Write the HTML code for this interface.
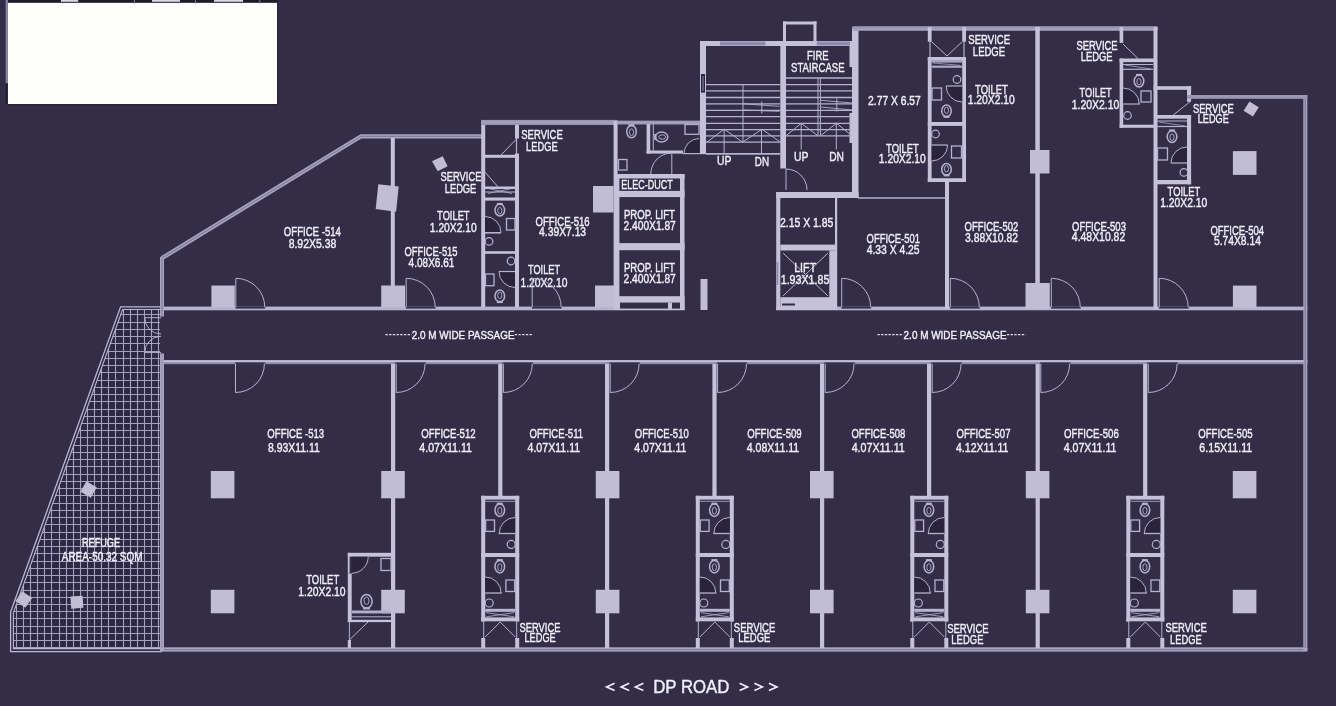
<!DOCTYPE html>
<html><head><meta charset="utf-8"><style>
html,body{margin:0;padding:0;background:#332d48;width:1336px;height:706px;overflow:hidden}
svg{display:block;will-change:transform}
text{font-family:"Liberation Sans",sans-serif}
</style></head><body>
<svg width="1336" height="706" viewBox="0 0 1336 706">
<rect x="0" y="0" width="1336" height="706" fill="#332d48"/>
<rect x="7.8" y="2.6" width="269.3" height="101.4" fill="#fefefc" />
<rect x="7.8" y="0" width="269.3" height="2.6" fill="#201c30" />
<rect x="5.7" y="0" width="2.1" height="83.4" fill="#8d88a5" />
<rect x="5.7" y="83.4" width="2.1" height="20.6" fill="#221e33" />
<rect x="7.8" y="104" width="270.2" height="1.6" fill="#29243b" />
<rect x="277.1" y="0" width="1.5" height="104" fill="#29243b" />
<rect x="61" y="0" width="17.2" height="1.8" fill="#d9d7e2" />
<rect x="152" y="0" width="28" height="1.8" fill="#d9d7e2" />
<rect x="214" y="0" width="29" height="1.8" fill="#d9d7e2" />
<line x1="134.4" y1="0" x2="134.4" y2="4" stroke="#9d9aab" stroke-width="0.8"/>
<line x1="195.6" y1="0" x2="195.6" y2="4" stroke="#9d9aab" stroke-width="0.8"/>
<line x1="259.8" y1="0" x2="259.8" y2="4" stroke="#9d9aab" stroke-width="0.8"/>
<defs><clipPath id="rf"><polygon points="122.5,309.8 160,309.8 160,648.3 13.8,648.3 13.8,612.5"/></clipPath></defs>
<rect x="0" y="300" width="170" height="360" fill="#2d2843" clip-path="url(#rf)"/>
<g clip-path="url(#rf)" stroke="#a5a1bf" stroke-width="1.1">
<line x1="16.5" y1="300" x2="16.5" y2="660"/>
<line x1="23.5" y1="300" x2="23.5" y2="660"/>
<line x1="30.5" y1="300" x2="30.5" y2="660"/>
<line x1="37.5" y1="300" x2="37.5" y2="660"/>
<line x1="44.5" y1="300" x2="44.5" y2="660"/>
<line x1="51.5" y1="300" x2="51.5" y2="660"/>
<line x1="59.5" y1="300" x2="59.5" y2="660"/>
<line x1="66.5" y1="300" x2="66.5" y2="660"/>
<line x1="73.5" y1="300" x2="73.5" y2="660"/>
<line x1="80.5" y1="300" x2="80.5" y2="660"/>
<line x1="87.5" y1="300" x2="87.5" y2="660"/>
<line x1="94.5" y1="300" x2="94.5" y2="660"/>
<line x1="101.5" y1="300" x2="101.5" y2="660"/>
<line x1="108.5" y1="300" x2="108.5" y2="660"/>
<line x1="115.5" y1="300" x2="115.5" y2="660"/>
<line x1="123.5" y1="300" x2="123.5" y2="660"/>
<line x1="130.5" y1="300" x2="130.5" y2="660"/>
<line x1="137.5" y1="300" x2="137.5" y2="660"/>
<line x1="144.5" y1="300" x2="144.5" y2="660"/>
<line x1="151.5" y1="300" x2="151.5" y2="660"/>
<line x1="158.5" y1="300" x2="158.5" y2="660"/>
<line x1="0" y1="300.5" x2="170" y2="300.5"/>
<line x1="0" y1="307.5" x2="170" y2="307.5"/>
<line x1="0" y1="314.5" x2="170" y2="314.5"/>
<line x1="0" y1="322.5" x2="170" y2="322.5"/>
<line x1="0" y1="329.5" x2="170" y2="329.5"/>
<line x1="0" y1="336.5" x2="170" y2="336.5"/>
<line x1="0" y1="343.5" x2="170" y2="343.5"/>
<line x1="0" y1="351.5" x2="170" y2="351.5"/>
<line x1="0" y1="358.5" x2="170" y2="358.5"/>
<line x1="0" y1="365.5" x2="170" y2="365.5"/>
<line x1="0" y1="372.5" x2="170" y2="372.5"/>
<line x1="0" y1="380.5" x2="170" y2="380.5"/>
<line x1="0" y1="387.5" x2="170" y2="387.5"/>
<line x1="0" y1="394.5" x2="170" y2="394.5"/>
<line x1="0" y1="401.5" x2="170" y2="401.5"/>
<line x1="0" y1="409.5" x2="170" y2="409.5"/>
<line x1="0" y1="416.5" x2="170" y2="416.5"/>
<line x1="0" y1="423.5" x2="170" y2="423.5"/>
<line x1="0" y1="430.5" x2="170" y2="430.5"/>
<line x1="0" y1="437.5" x2="170" y2="437.5"/>
<line x1="0" y1="445.5" x2="170" y2="445.5"/>
<line x1="0" y1="452.5" x2="170" y2="452.5"/>
<line x1="0" y1="459.5" x2="170" y2="459.5"/>
<line x1="0" y1="466.5" x2="170" y2="466.5"/>
<line x1="0" y1="474.5" x2="170" y2="474.5"/>
<line x1="0" y1="481.5" x2="170" y2="481.5"/>
<line x1="0" y1="488.5" x2="170" y2="488.5"/>
<line x1="0" y1="495.5" x2="170" y2="495.5"/>
<line x1="0" y1="503.5" x2="170" y2="503.5"/>
<line x1="0" y1="510.5" x2="170" y2="510.5"/>
<line x1="0" y1="517.5" x2="170" y2="517.5"/>
<line x1="0" y1="524.5" x2="170" y2="524.5"/>
<line x1="0" y1="532.5" x2="170" y2="532.5"/>
<line x1="0" y1="539.5" x2="170" y2="539.5"/>
<line x1="0" y1="546.5" x2="170" y2="546.5"/>
<line x1="0" y1="553.5" x2="170" y2="553.5"/>
<line x1="0" y1="561.5" x2="170" y2="561.5"/>
<line x1="0" y1="568.5" x2="170" y2="568.5"/>
<line x1="0" y1="575.5" x2="170" y2="575.5"/>
<line x1="0" y1="582.5" x2="170" y2="582.5"/>
<line x1="0" y1="590.5" x2="170" y2="590.5"/>
<line x1="0" y1="597.5" x2="170" y2="597.5"/>
<line x1="0" y1="604.5" x2="170" y2="604.5"/>
<line x1="0" y1="611.5" x2="170" y2="611.5"/>
<line x1="0" y1="618.5" x2="170" y2="618.5"/>
<line x1="0" y1="626.5" x2="170" y2="626.5"/>
<line x1="0" y1="633.5" x2="170" y2="633.5"/>
<line x1="0" y1="640.5" x2="170" y2="640.5"/>
<line x1="0" y1="647.5" x2="170" y2="647.5"/>
<line x1="0" y1="655.5" x2="170" y2="655.5"/>
</g>
<polyline points="160.5,306.9 120.6,306.9 10.6,612 10.6,651.6 162,651.6" stroke="#bbb7d2" stroke-width="1.3" fill="none"/>
<polyline points="160.5,309.5 122.6,309.5 13.4,612.8 13.4,648.6 162,648.6" stroke="#bbb7d2" stroke-width="1.1" fill="none"/>
<polygon points="86.4,481.3 96.8,487.3 90.8,497.7 80.4,491.7" fill="#c0bdd5"/>
<polygon points="22.33,591.14 32.16,598.03 25.27,607.86 15.44,600.97" fill="#c0bdd5"/>
<polygon points="70.39,596.54 82.56,595.69 83.41,607.86 71.24,608.71" fill="#c0bdd5"/>
<text transform="translate(81.97,547.4) scale(0.7425,1)" font-size="12.32" fill="#f1eff8" stroke="#f1eff8" stroke-width="0.4">REFUGE</text>
<text transform="translate(61.75,561.3) scale(0.8092,1)" font-size="12.32" fill="#f1eff8" stroke="#f1eff8" stroke-width="0.4">AREA-50.32 SQM</text>
<rect x="160" y="306.6" width="524.5" height="3.7" fill="#b7b3ce" />
<rect x="776.2" y="306.6" width="531.1" height="3.7" fill="#b7b3ce" />
<rect x="160" y="360.2" width="1147.3" height="4.0" fill="#8e8aa8" />
<rect x="160" y="360.2" width="1147.3" height="2.0" fill="#c3bfd8" />
<rect x="160" y="647.3" width="1147.3" height="4.3" fill="#a9a5c1" />
<line x1="160" y1="649.6" x2="1307.3" y2="649.6" stroke="#827e9b" stroke-width="1.1"/>
<rect x="160" y="257" width="4" height="59.5" fill="#a9a5c1" />
<rect x="160" y="353.5" width="4" height="297.5" fill="#a9a5c1" />
<line x1="162" y1="259" x2="162" y2="316.5" stroke="#827e9b" stroke-width="1.2"/>
<line x1="162" y1="353.5" x2="162" y2="648" stroke="#9793af" stroke-width="1.2"/>
<rect x="1303.3" y="95" width="4.0" height="556" fill="#a9a5c1" />
<line x1="1305.3" y1="97" x2="1305.3" y2="648" stroke="#827e9b" stroke-width="1.4"/>
<path d="M161,317.7 L144.7,317.7 A16.3,16.3 0 0 0 161.0,334.0" stroke="#b6b2cd" stroke-width="1" fill="none"/>
<path d="M161,352.6 L144.7,352.6 A16.3,16.3 0 0 1 161.0,336.3" stroke="#b6b2cd" stroke-width="1" fill="none"/>
<polyline points="162,258.1 361,136.3 483,136.3" stroke="#a9a5c1" stroke-width="4.2" fill="none"/>
<polyline points="162,258.1 361,136.3 483,136.3" stroke="#827e9b" stroke-width="1.3" fill="none"/>
<rect x="390.8" y="138" width="4.0" height="169" fill="#c5c1da" />
<polygon points="378.3,184.3 398.7,186.6 396.1,211.7 375.7,209" fill="#c0bdd5"/>
<rect x="211.4" y="285.5" width="23.4" height="21.5" fill="#c0bdd5" />
<rect x="381.2" y="285.5" width="23.8" height="21.5" fill="#c0bdd5" />
<rect x="235.5" y="306.5" width="29.8" height="2.1" fill="#332d48" />
<path d="M235.8,307.3 L235.8,278.3 A29,29 0 0 1 264.8,307.3" stroke="#b6b2cd" stroke-width="1" fill="none"/>
<rect x="405.9" y="306.5" width="29.8" height="2.1" fill="#332d48" />
<path d="M406.2,307.3 L406.2,278.3 A29,29 0 0 1 435.2,307.3" stroke="#b6b2cd" stroke-width="1" fill="none"/>
<polygon points="432,161.2 442.7,156.3 447.6,166.2 437.7,171.2" fill="#c0bdd5"/>
<text transform="translate(283.77,235.8) scale(0.7813,1)" font-size="12.32" fill="#f1eff8" stroke="#f1eff8" stroke-width="0.4">OFFICE -514</text>
<text transform="translate(288.63,248.3) scale(0.8508,1)" font-size="12.32" fill="#f1eff8" stroke="#f1eff8" stroke-width="0.4">8.92X5.38</text>
<text transform="translate(404.38,256.3) scale(0.7623,1)" font-size="12.32" fill="#f1eff8" stroke="#f1eff8" stroke-width="0.4">OFFICE-515</text>
<text transform="translate(408.55,267) scale(0.8172,1)" font-size="12.32" fill="#f1eff8" stroke="#f1eff8" stroke-width="0.4">4.08X6.61</text>
<text transform="translate(440.58,180.8) scale(0.7578,1)" font-size="12.32" fill="#f1eff8" stroke="#f1eff8" stroke-width="0.4">SERVICE</text>
<text transform="translate(444.75,192.7) scale(0.7572,1)" font-size="12.32" fill="#f1eff8" stroke="#f1eff8" stroke-width="0.4">LEDGE</text>
<text transform="translate(437.11,220.2) scale(0.7575,1)" font-size="12.32" fill="#f1eff8" stroke="#f1eff8" stroke-width="0.4">TOILET</text>
<text transform="translate(429.83,231.7) scale(0.8346,1)" font-size="12.32" fill="#f1eff8" stroke="#f1eff8" stroke-width="0.4">1.20X2.10</text>
<rect x="481.2" y="120.5" width="4.0" height="186.5" fill="#c5c1da" />
<rect x="515" y="120.5" width="4" height="18.0" fill="#c5c1da" />
<rect x="515" y="153.5" width="4" height="153.5" fill="#c5c1da" />
<line x1="516.5" y1="138" x2="516.5" y2="154" stroke="#b6b2cd" stroke-width="1.2"/>
<rect x="481.2" y="119.9" width="136.3" height="5.1" fill="#9b97b3" />
<line x1="481.2" y1="122.4" x2="617.5" y2="122.4" stroke="#a7a3bf" stroke-width="1.3"/>
<rect x="485" y="154.8" width="34" height="3.0" fill="#c5c1da" />
<rect x="485" y="186.5" width="34" height="2.5" fill="#c5c1da" />
<rect x="485" y="197.5" width="34" height="3.1" fill="#c5c1da" />
<line x1="485" y1="192" x2="515" y2="192" stroke="#b6b2cd" stroke-width="1"/>
<line x1="488" y1="188.5" x2="512" y2="193.5" stroke="#b6b2cd" stroke-width="0.8"/>
<line x1="488" y1="193.5" x2="512" y2="188.5" stroke="#b6b2cd" stroke-width="0.8"/>
<line x1="517.5" y1="138" x2="500" y2="156" stroke="#b6b2cd" stroke-width="1"/>
<line x1="484" y1="171" x2="499" y2="188" stroke="#b6b2cd" stroke-width="1"/>
<rect x="485" y="251.2" width="30" height="2.6" fill="#c5c1da" />
<g transform="rotate(0 499.8 209.5)"><ellipse cx="499.8" cy="210.1" rx="4.8" ry="6" stroke="#b6b2cd" stroke-width="1.5" fill="none"/><ellipse cx="499.8" cy="210.7" rx="2.1" ry="3.3000000000000003" stroke="#b6b2cd" stroke-width="0.9" fill="none"/><rect x="496.86" y="202.9" width="5.88" height="2.2" fill="#b6b2cd"/></g>
<rect x="506.5" y="218.5" width="8.5" height="11.5" fill="none" stroke="#b6b2cd" stroke-width="1.3"/>
<path d="M485,232.5 L501,232.5 A16,16 0 0 0 485,216.5 Z" fill="#29243c"/>
<path d="M485,232.5 L501,232.5 A16,16 0 0 0 485,216.5" stroke="#b6b2cd" stroke-width="1" fill="none"/>
<line x1="485" y1="233" x2="501" y2="233" stroke="#b6b2cd" stroke-width="1.2"/>
<circle cx="489" cy="241.4" r="3.8" stroke="#b6b2cd" stroke-width="1.2" fill="none"/>
<circle cx="511" cy="261" r="3.8" stroke="#b6b2cd" stroke-width="1.2" fill="none"/>
<path d="M515,271.5 L499,271.5 A16,16 0 0 0 515,287.5 Z" fill="#29243c"/>
<path d="M515,271.5 L499,271.5 A16,16 0 0 0 515,287.5" stroke="#b6b2cd" stroke-width="1" fill="none"/>
<line x1="499" y1="271.5" x2="515" y2="271.5" stroke="#b6b2cd" stroke-width="1.2"/>
<rect x="485.5" y="274" width="8.5" height="11.7" fill="none" stroke="#b6b2cd" stroke-width="1.3"/>
<g transform="rotate(180 499.8 296.5)"><ellipse cx="499.8" cy="297.1" rx="4.8" ry="6" stroke="#b6b2cd" stroke-width="1.5" fill="none"/><ellipse cx="499.8" cy="297.7" rx="2.1" ry="3.3000000000000003" stroke="#b6b2cd" stroke-width="0.9" fill="none"/><rect x="496.86" y="289.9" width="5.88" height="2.2" fill="#b6b2cd"/></g>
<rect x="613.6" y="121" width="4.0" height="189" fill="#c5c1da" />
<text transform="translate(521.27,138.7) scale(0.7710,1)" font-size="12.32" fill="#f1eff8" stroke="#f1eff8" stroke-width="0.4">SERVICE</text>
<text transform="translate(526.05,151.1) scale(0.7572,1)" font-size="12.32" fill="#f1eff8" stroke="#f1eff8" stroke-width="0.4">LEDGE</text>
<text transform="translate(535.47,225.7) scale(0.7775,1)" font-size="12.32" fill="#f1eff8" stroke="#f1eff8" stroke-width="0.4">OFFICE-516</text>
<text transform="translate(539.04,236.3) scale(0.8389,1)" font-size="12.32" fill="#f1eff8" stroke="#f1eff8" stroke-width="0.4">4.39X7.13</text>
<text transform="translate(528.02,273.5) scale(0.7457,1)" font-size="12.32" fill="#f1eff8" stroke="#f1eff8" stroke-width="0.4">TOILET</text>
<text transform="translate(520.43,286.9) scale(0.8364,1)" font-size="12.32" fill="#f1eff8" stroke="#f1eff8" stroke-width="0.4">1.20X2.10</text>
<rect x="595" y="285.5" width="19" height="21.5" fill="#c0bdd5" />
<rect x="593" y="186" width="20.6" height="26.5" fill="#c0bdd5" />
<rect x="531.9" y="306.5" width="29.8" height="2.1" fill="#332d48" />
<path d="M532.2,307.3 L532.2,278.3 A29,29 0 0 1 561.2,307.3" stroke="#b6b2cd" stroke-width="1" fill="none"/>
<rect x="617" y="120.6" width="83" height="3.9" fill="#9b97b3" />
<line x1="617" y1="122.5" x2="700" y2="122.5" stroke="#a7a3bf" stroke-width="1.3"/>
<rect x="646.6" y="124" width="3.6" height="29.6" fill="#c5c1da" />
<line x1="653.3" y1="124" x2="653.3" y2="150.5" stroke="#b6b2cd" stroke-width="1"/>
<rect x="646.6" y="150.5" width="36.4" height="3.1" fill="#c5c1da" />
<g transform="rotate(-90 661 137)"><ellipse cx="661" cy="137.6" rx="5.0" ry="6.2" stroke="#b6b2cd" stroke-width="1.5" fill="none"/><ellipse cx="661" cy="138.2" rx="2.2" ry="3.4100000000000006" stroke="#b6b2cd" stroke-width="0.9" fill="none"/><rect x="657.92" y="130.20000000000002" width="6.16" height="2.2" fill="#b6b2cd"/></g>
<g transform="rotate(0 631.5 131)"><ellipse cx="631.5" cy="131.6" rx="4.8" ry="6.2" stroke="#b6b2cd" stroke-width="1.5" fill="none"/><ellipse cx="631.5" cy="132.2" rx="2.1" ry="3.4100000000000006" stroke="#b6b2cd" stroke-width="0.9" fill="none"/><rect x="628.56" y="124.2" width="5.88" height="2.2" fill="#b6b2cd"/></g>
<rect x="618.5" y="159.5" width="8.5" height="10.5" fill="none" stroke="#b6b2cd" stroke-width="1.3"/>
<rect x="685" y="124.5" width="14" height="9.8" fill="none" stroke="#b6b2cd" stroke-width="1.3"/>
<path d="M699,153.6 L699,138.6 A15,15 0 0 0 684,153.6 Z" fill="#29243c"/>
<path d="M699,138.6 A15,15 0 0 0 684,153.6" stroke="#b6b2cd" stroke-width="1" fill="none"/>
<line x1="683" y1="153.6" x2="706" y2="153.6" stroke="#b6b2cd" stroke-width="1.2"/>
<line x1="671.8" y1="154" x2="671.8" y2="174" stroke="#b6b2cd" stroke-width="1"/>
<path d="M671.8,153 A21,21 0 0 0 650.8,174" stroke="#b6b2cd" stroke-width="1" fill="none"/>
<rect x="617" y="174" width="67.5" height="4.5" fill="#c5c1da" />
<rect x="617" y="190.9" width="67.5" height="6.2" fill="#c5c1da" />
<rect x="680" y="174" width="4.5" height="136" fill="#c5c1da" />
<rect x="617" y="243.1" width="67.5" height="7.1" fill="#c5c1da" />
<rect x="617" y="296.2" width="67.5" height="6.3" fill="#c5c1da" />
<rect x="617" y="302.5" width="67.5" height="7.5" fill="#c5c1da" />
<rect x="620" y="302.8" width="48" height="5.8" fill="#332d48" />
<rect x="672" y="302.8" width="8" height="5.8" fill="#332d48" />
<rect x="617" y="174" width="2.4" height="136" fill="#c5c1da" />
<text transform="translate(621.28,188.9) scale(0.7485,1)" font-size="12.03" fill="#f1eff8" stroke="#f1eff8" stroke-width="0.4">ELEC-DUCT</text>
<text transform="translate(623.93,219.2) scale(0.7799,1)" font-size="12.32" fill="#f1eff8" stroke="#f1eff8" stroke-width="0.4">PROP. LIFT</text>
<text transform="translate(623.49,229.8) scale(0.8304,1)" font-size="12.32" fill="#f1eff8" stroke="#f1eff8" stroke-width="0.4">2.400X1.87</text>
<text transform="translate(623.93,272.3) scale(0.7799,1)" font-size="12.32" fill="#f1eff8" stroke="#f1eff8" stroke-width="0.4">PROP. LIFT</text>
<text transform="translate(623.49,282.9) scale(0.8304,1)" font-size="12.32" fill="#f1eff8" stroke="#f1eff8" stroke-width="0.4">2.400X1.87</text>
<rect x="700.5" y="279" width="7.0" height="31" fill="#c0bdd5" />
<rect x="700" y="41" width="6" height="113" fill="#c5c1da" />
<rect x="701" y="74" width="4" height="18.6" fill="#2a253e" />
<line x1="703" y1="76" x2="703" y2="91" stroke="#8f8aab" stroke-width="1"/>
<rect x="700" y="41" width="158" height="5" fill="#c5c1da" />
<rect x="720" y="41.5" width="45.5" height="4.0" fill="#8f8aab" />
<rect x="816.5" y="41.5" width="33.5" height="4.0" fill="#8f8aab" />
<rect x="780.3" y="41" width="5.7" height="127.5" fill="#c5c1da" />
<rect x="852" y="27" width="6.5" height="171" fill="#c5c1da" />
<rect x="776.2" y="192" width="82.3" height="6" fill="#c5c1da" />
<rect x="783" y="21.5" width="33.5" height="3.0" fill="#c5c1da" />
<rect x="783" y="21.5" width="3" height="23.5" fill="#c5c1da" />
<rect x="813.5" y="21.5" width="3.0" height="23.5" fill="#c5c1da" />
<line x1="706" y1="84.6" x2="780.3" y2="84.6" stroke="#b6b2cd" stroke-width="1.3"/>
<line x1="706" y1="90.9" x2="780.3" y2="90.9" stroke="#b6b2cd" stroke-width="1.3"/>
<line x1="706" y1="97.5" x2="780.3" y2="97.5" stroke="#b6b2cd" stroke-width="1.3"/>
<line x1="706" y1="103.8" x2="780.3" y2="103.8" stroke="#b6b2cd" stroke-width="1.3"/>
<line x1="706" y1="110.4" x2="780.3" y2="110.4" stroke="#b6b2cd" stroke-width="1.3"/>
<line x1="706" y1="116.7" x2="780.3" y2="116.7" stroke="#b6b2cd" stroke-width="1.3"/>
<line x1="706" y1="123.3" x2="780.3" y2="123.3" stroke="#b6b2cd" stroke-width="1.3"/>
<line x1="706" y1="129.6" x2="780.3" y2="129.6" stroke="#b6b2cd" stroke-width="1.3"/>
<line x1="706" y1="135.8" x2="780.3" y2="135.8" stroke="#b6b2cd" stroke-width="1.3"/>
<line x1="706" y1="142.1" x2="780.3" y2="142.1" stroke="#b6b2cd" stroke-width="1.3"/>
<line x1="706" y1="153.9" x2="780.3" y2="153.9" stroke="#b6b2cd" stroke-width="1.8"/>
<line x1="743" y1="84.6" x2="743" y2="142.1" stroke="#b6b2cd" stroke-width="1"/>
<polyline points="706.9,142.1 724.2,129.2 742.6,142.1 762,129.2 780.3,142.1" stroke="#b6b2cd" stroke-width="1" fill="none"/>
<line x1="724.1" y1="129.2" x2="724.1" y2="154" stroke="#b6b2cd" stroke-width="1"/>
<line x1="761.5" y1="129.2" x2="761.5" y2="154" stroke="#b6b2cd" stroke-width="1"/>
<line x1="743" y1="103.8" x2="779.5" y2="106.3" stroke="#b6b2cd" stroke-width="0.9"/>
<line x1="743" y1="110" x2="779.5" y2="111.3" stroke="#b6b2cd" stroke-width="0.9"/>
<line x1="761.8" y1="101.5" x2="761.8" y2="113.5" stroke="#b6b2cd" stroke-width="1"/>
<line x1="820.5" y1="100.3" x2="852" y2="103" stroke="#b6b2cd" stroke-width="0.9"/>
<line x1="820.5" y1="107" x2="852" y2="110" stroke="#b6b2cd" stroke-width="0.9"/>
<line x1="836.8" y1="98.5" x2="836.8" y2="111.5" stroke="#b6b2cd" stroke-width="1"/>
<rect x="849.5" y="46" width="3.0" height="21" fill="#c5c1da" />
<rect x="849.5" y="113" width="3.0" height="30" fill="#c5c1da" />
<line x1="786" y1="78" x2="852" y2="78" stroke="#b6b2cd" stroke-width="1.3"/>
<line x1="786" y1="84.6" x2="852" y2="84.6" stroke="#b6b2cd" stroke-width="1.3"/>
<line x1="786" y1="90.9" x2="852" y2="90.9" stroke="#b6b2cd" stroke-width="1.3"/>
<line x1="786" y1="97.5" x2="852" y2="97.5" stroke="#b6b2cd" stroke-width="1.3"/>
<line x1="786" y1="103.8" x2="852" y2="103.8" stroke="#b6b2cd" stroke-width="1.3"/>
<line x1="786" y1="110.4" x2="852" y2="110.4" stroke="#b6b2cd" stroke-width="1.3"/>
<line x1="786" y1="116.7" x2="852" y2="116.7" stroke="#b6b2cd" stroke-width="1.3"/>
<line x1="786" y1="123.3" x2="852" y2="123.3" stroke="#b6b2cd" stroke-width="1.3"/>
<line x1="786" y1="129.6" x2="852" y2="129.6" stroke="#b6b2cd" stroke-width="1.3"/>
<line x1="786" y1="135.8" x2="852" y2="135.8" stroke="#b6b2cd" stroke-width="1.3"/>
<line x1="818" y1="78" x2="818" y2="135.2" stroke="#b6b2cd" stroke-width="1"/>
<line x1="820.4" y1="78" x2="820.4" y2="135.2" stroke="#b6b2cd" stroke-width="1"/>
<polyline points="786,135.8 801.2,123.3 818,135.8" stroke="#b6b2cd" stroke-width="1" fill="none"/>
<polyline points="820.4,135.8 836.5,123.3 852,135.8" stroke="#b6b2cd" stroke-width="1" fill="none"/>
<line x1="801.2" y1="123.3" x2="801.2" y2="149.5" stroke="#b6b2cd" stroke-width="1"/>
<line x1="836.3" y1="123.3" x2="836.3" y2="149.5" stroke="#b6b2cd" stroke-width="1"/>
<text transform="translate(717.12,164.9) scale(0.8060,1)" font-size="12.90" fill="#f1eff8" stroke="#f1eff8" stroke-width="0.4">UP</text>
<text transform="translate(754.81,166) scale(0.7632,1)" font-size="12.90" fill="#f1eff8" stroke="#f1eff8" stroke-width="0.4">DN</text>
<text transform="translate(794.12,160.7) scale(0.8060,1)" font-size="12.90" fill="#f1eff8" stroke="#f1eff8" stroke-width="0.4">UP</text>
<text transform="translate(829.18,160.5) scale(0.7935,1)" font-size="12.90" fill="#f1eff8" stroke="#f1eff8" stroke-width="0.4">DN</text>
<text transform="translate(807.04,59.9) scale(0.7339,1)" font-size="12.90" fill="#f1eff8" stroke="#f1eff8" stroke-width="0.4">FIRE</text>
<text transform="translate(791.07,72) scale(0.7422,1)" font-size="12.90" fill="#f1eff8" stroke="#f1eff8" stroke-width="0.4">STAIRCASE</text>
<path d="M786,190 L786,169 A21,21 0 0 1 807,190" stroke="#b6b2cd" stroke-width="1" fill="none"/>
<rect x="852.6" y="26.2" width="305.0" height="4.6" fill="#9b97b3" />
<line x1="852.6" y1="29.4" x2="1157.6" y2="29.4" stroke="#a7a3bf" stroke-width="1.3"/>
<rect x="927.8" y="27" width="3.8" height="14.7" fill="#c5c1da" />
<rect x="962.2" y="27" width="3.8" height="14.7" fill="#c5c1da" />
<line x1="931.6" y1="41.7" x2="947" y2="56" stroke="#b6b2cd" stroke-width="1"/>
<line x1="962.2" y1="41.7" x2="947" y2="56" stroke="#b6b2cd" stroke-width="1"/>
<line x1="930" y1="41" x2="930" y2="57" stroke="#b6b2cd" stroke-width="1.2"/>
<line x1="964" y1="41" x2="964" y2="57" stroke="#b6b2cd" stroke-width="1.2"/>
<rect x="927.8" y="57" width="3.8" height="125" fill="#c5c1da" />
<rect x="962.2" y="57" width="3.8" height="125" fill="#c5c1da" />
<rect x="927.8" y="57" width="38.2" height="3.8" fill="#c5c1da" />
<rect x="931.6" y="60.8" width="30.6" height="1.8" fill="#aca8c4" />
<rect x="931.6" y="65.6" width="30.6" height="2.2" fill="#aca8c4" />
<line x1="933" y1="63" x2="960" y2="65.3" stroke="#b6b2cd" stroke-width="0.7"/>
<rect x="927.8" y="122" width="38.2" height="3.9" fill="#c5c1da" />
<rect x="927.8" y="178.2" width="38.2" height="3.8" fill="#c5c1da" />
<circle cx="957" cy="79.5" r="3.8" stroke="#b6b2cd" stroke-width="1.2" fill="none"/>
<path d="M962.2,86 L946.2,86 A16,16 0 0 0 962.2,102 Z" fill="#29243c"/>
<path d="M946.2,86 A16,16 0 0 0 962.2,102" stroke="#b6b2cd" stroke-width="1" fill="none"/>
<line x1="946" y1="86" x2="962" y2="86" stroke="#b6b2cd" stroke-width="1.2"/>
<rect x="932" y="88" width="9.5" height="12" fill="none" stroke="#b6b2cd" stroke-width="1.3"/>
<g transform="rotate(180 946.5 111.5)"><ellipse cx="946.5" cy="112.1" rx="4.8" ry="5.8" stroke="#b6b2cd" stroke-width="1.5" fill="none"/><ellipse cx="946.5" cy="112.7" rx="2.1" ry="3.19" stroke="#b6b2cd" stroke-width="0.9" fill="none"/><rect x="943.56" y="105.10000000000001" width="5.88" height="2.2" fill="#b6b2cd"/></g>
<circle cx="935.5" cy="134" r="3.8" stroke="#b6b2cd" stroke-width="1.2" fill="none"/>
<path d="M931.6,145 L947.6,145 A16,16 0 0 1 931.6,161 Z" fill="#29243c"/>
<path d="M947.6,145 A16,16 0 0 1 931.6,161" stroke="#b6b2cd" stroke-width="1" fill="none"/>
<line x1="931.6" y1="145" x2="947.5" y2="145" stroke="#b6b2cd" stroke-width="1.2"/>
<rect x="951.5" y="146" width="10.0" height="12" fill="none" stroke="#b6b2cd" stroke-width="1.3"/>
<g transform="rotate(180 946.5 170)"><ellipse cx="946.5" cy="170.6" rx="4.8" ry="5.8" stroke="#b6b2cd" stroke-width="1.5" fill="none"/><ellipse cx="946.5" cy="171.2" rx="2.1" ry="3.19" stroke="#b6b2cd" stroke-width="0.9" fill="none"/><rect x="943.56" y="163.6" width="5.88" height="2.2" fill="#b6b2cd"/></g>
<rect x="945" y="182" width="4" height="127" fill="#c5c1da" />
<text transform="translate(868.08,105.1) scale(0.8369,1)" font-size="12.32" fill="#f1eff8" stroke="#f1eff8" stroke-width="0.4">2.77 X 6.57</text>
<text transform="translate(886.11,152.9) scale(0.7622,1)" font-size="12.32" fill="#f1eff8" stroke="#f1eff8" stroke-width="0.4">TOILET</text>
<text transform="translate(878.83,162.5) scale(0.8364,1)" font-size="12.32" fill="#f1eff8" stroke="#f1eff8" stroke-width="0.4">1.20X2.10</text>
<text transform="translate(968.37,43.8) scale(0.7767,1)" font-size="12.32" fill="#f1eff8" stroke="#f1eff8" stroke-width="0.4">SERVICE</text>
<text transform="translate(972.84,55.5) scale(0.7720,1)" font-size="12.32" fill="#f1eff8" stroke="#f1eff8" stroke-width="0.4">LEDGE</text>
<text transform="translate(975.11,94) scale(0.7622,1)" font-size="12.32" fill="#f1eff8" stroke="#f1eff8" stroke-width="0.4">TOILET</text>
<text transform="translate(967.73,103.8) scale(0.8382,1)" font-size="12.32" fill="#f1eff8" stroke="#f1eff8" stroke-width="0.4">1.20X2.10</text>
<line x1="858" y1="198" x2="945.7" y2="198" stroke="#b6b2cd" stroke-width="1.3"/>
<rect x="835" y="198" width="2.2" height="112" fill="#c5c1da" />
<rect x="841.4" y="306.5" width="29.8" height="2.1" fill="#332d48" />
<path d="M841.7,307.3 L841.7,278.3 A29,29 0 0 1 870.7,307.3" stroke="#b6b2cd" stroke-width="1" fill="none"/>
<text transform="translate(866.58,243.2) scale(0.7644,1)" font-size="12.32" fill="#f1eff8" stroke="#f1eff8" stroke-width="0.4">OFFICE-501</text>
<text transform="translate(866.74,253.8) scale(0.8391,1)" font-size="12.32" fill="#f1eff8" stroke="#f1eff8" stroke-width="0.4">4.33 X 4.25</text>
<rect x="776.2" y="192" width="4.1" height="118" fill="#c5c1da" />
<rect x="780.3" y="244.6" width="55.7" height="5.9" fill="#c5c1da" />
<rect x="829.3" y="250.5" width="6.7" height="59.5" fill="#c5c1da" />
<rect x="780.3" y="297.2" width="55.7" height="12.8" fill="#c5c1da" />
<rect x="782" y="303.5" width="13" height="2.0" fill="#332d48" />
<line x1="783" y1="253" x2="828" y2="296" stroke="#b6b2cd" stroke-width="1"/>
<line x1="828" y1="253" x2="783" y2="296" stroke="#b6b2cd" stroke-width="1"/>
<line x1="777.5" y1="262" x2="777.5" y2="285" stroke="#8f8aab" stroke-width="1.5"/>
<text transform="translate(779.98,226.6) scale(0.8286,1)" font-size="12.61" fill="#f1eff8" stroke="#f1eff8" stroke-width="0.4">2.15 X 1.85</text>
<text transform="translate(794.14,271.5) scale(0.8519,1)" font-size="12.61" fill="#f1eff8" stroke="#f1eff8" stroke-width="0.4">LIFT</text>
<text transform="translate(780.70,284.3) scale(0.8475,1)" font-size="12.61" fill="#f1eff8" stroke="#f1eff8" stroke-width="0.4">1.93X1.85</text>
<rect x="950.0" y="306.5" width="29.8" height="2.1" fill="#332d48" />
<path d="M950.3,307.3 L950.3,278.3 A29,29 0 0 1 979.3,307.3" stroke="#b6b2cd" stroke-width="1" fill="none"/>
<text transform="translate(964.57,230.9) scale(0.7695,1)" font-size="12.32" fill="#f1eff8" stroke="#f1eff8" stroke-width="0.4">OFFICE-502</text>
<text transform="translate(964.99,241.7) scale(0.8417,1)" font-size="12.32" fill="#f1eff8" stroke="#f1eff8" stroke-width="0.4">3.88X10.82</text>
<rect x="1035.3" y="27" width="4.5" height="282" fill="#c5c1da" />
<rect x="1030" y="150" width="19.5" height="23.5" fill="#c0bdd5" />
<rect x="1025.5" y="283" width="24.3" height="26" fill="#c0bdd5" />
<rect x="1051.0" y="306.5" width="29.8" height="2.1" fill="#332d48" />
<path d="M1051.3,307.3 L1051.3,278.3 A29,29 0 0 1 1080.3,307.3" stroke="#b6b2cd" stroke-width="1" fill="none"/>
<text transform="translate(1072.07,230.7) scale(0.7717,1)" font-size="12.32" fill="#f1eff8" stroke="#f1eff8" stroke-width="0.4">OFFICE-503</text>
<text transform="translate(1071.84,240.9) scale(0.8472,1)" font-size="12.32" fill="#f1eff8" stroke="#f1eff8" stroke-width="0.4">4.48X10.82</text>
<rect x="1119.6" y="27" width="3.6" height="15.9" fill="#c5c1da" />
<line x1="1123" y1="44" x2="1138" y2="58.5" stroke="#b6b2cd" stroke-width="1"/>
<rect x="1119.6" y="58.5" width="3.6" height="69.3" fill="#c5c1da" />
<rect x="1119.6" y="58.5" width="37.4" height="3.6" fill="#c5c1da" />
<line x1="1123" y1="64.5" x2="1153" y2="64.5" stroke="#b6b2cd" stroke-width="1"/>
<line x1="1123" y1="69.3" x2="1153" y2="69.3" stroke="#b6b2cd" stroke-width="1.2"/>
<line x1="1125" y1="65" x2="1151" y2="69" stroke="#b6b2cd" stroke-width="0.7"/>
<rect x="1119.6" y="124.7" width="37.4" height="3.1" fill="#c5c1da" />
<g transform="rotate(0 1139 80.5)"><ellipse cx="1139" cy="81.1" rx="4.8" ry="6" stroke="#b6b2cd" stroke-width="1.5" fill="none"/><ellipse cx="1139" cy="81.7" rx="2.1" ry="3.3000000000000003" stroke="#b6b2cd" stroke-width="0.9" fill="none"/><rect x="1136.06" y="73.9" width="5.88" height="2.2" fill="#b6b2cd"/></g>
<rect x="1141" y="91" width="10" height="11" fill="none" stroke="#b6b2cd" stroke-width="1.3"/>
<path d="M1123.2,104 L1139.2,104 A16,16 0 0 0 1123.2,88 Z" fill="#29243c"/>
<path d="M1139.2,104 A16,16 0 0 0 1123.2,88" stroke="#b6b2cd" stroke-width="1" fill="none"/>
<line x1="1123.2" y1="104" x2="1140" y2="104" stroke="#b6b2cd" stroke-width="1.2"/>
<circle cx="1127.5" cy="115.5" r="3.8" stroke="#b6b2cd" stroke-width="1.2" fill="none"/>
<text transform="translate(1076.38,50.3) scale(0.7654,1)" font-size="12.32" fill="#f1eff8" stroke="#f1eff8" stroke-width="0.4">SERVICE</text>
<text transform="translate(1080.75,60.8) scale(0.7646,1)" font-size="12.32" fill="#f1eff8" stroke="#f1eff8" stroke-width="0.4">LEDGE</text>
<text transform="translate(1079.62,96.7) scale(0.7481,1)" font-size="12.32" fill="#f1eff8" stroke="#f1eff8" stroke-width="0.4">TOILET</text>
<text transform="translate(1071.72,108.6) scale(0.8474,1)" font-size="12.32" fill="#f1eff8" stroke="#f1eff8" stroke-width="0.4">1.20X2.10</text>
<rect x="1153.5" y="27" width="4.0" height="282" fill="#c5c1da" />
<rect x="1153.5" y="86.2" width="37.6" height="3.6" fill="#c5c1da" />
<rect x="1187" y="86.2" width="4.1" height="15.6" fill="#c5c1da" />
<rect x="1187" y="95" width="120.3" height="3.8" fill="#9b97b3" />
<line x1="1190" y1="101.8" x2="1172" y2="116" stroke="#b6b2cd" stroke-width="1"/>
<rect x="1157" y="115" width="34.1" height="3.7" fill="#c5c1da" />
<line x1="1157" y1="121" x2="1187" y2="121" stroke="#b6b2cd" stroke-width="1"/>
<line x1="1157" y1="126.5" x2="1187" y2="126.5" stroke="#b6b2cd" stroke-width="1.2"/>
<line x1="1159" y1="122" x2="1185" y2="126" stroke="#b6b2cd" stroke-width="0.7"/>
<rect x="1187" y="115" width="4.1" height="69.3" fill="#c5c1da" />
<rect x="1157" y="180" width="34.1" height="4.3" fill="#c5c1da" />
<g transform="rotate(0 1172 136)"><ellipse cx="1172" cy="136.6" rx="4.8" ry="6" stroke="#b6b2cd" stroke-width="1.5" fill="none"/><ellipse cx="1172" cy="137.2" rx="2.1" ry="3.3000000000000003" stroke="#b6b2cd" stroke-width="0.9" fill="none"/><rect x="1169.06" y="129.4" width="5.88" height="2.2" fill="#b6b2cd"/></g>
<rect x="1157.5" y="148" width="10.0" height="12" fill="none" stroke="#b6b2cd" stroke-width="1.3"/>
<path d="M1187,163 L1171,163 A16,16 0 0 1 1187,147 Z" fill="#29243c"/>
<path d="M1171,163 A16,16 0 0 1 1187,147" stroke="#b6b2cd" stroke-width="1" fill="none"/>
<line x1="1171" y1="163" x2="1187" y2="163" stroke="#b6b2cd" stroke-width="1.2"/>
<circle cx="1183.9" cy="172.4" r="3.8" stroke="#b6b2cd" stroke-width="1.2" fill="none"/>
<polygon points="1249.45,101.42 1258.78,107.25 1252.95,116.58 1243.62,110.75" fill="#c0bdd5"/>
<text transform="translate(1192.88,112.9) scale(0.7799,1)" font-size="12.03" fill="#f1eff8" stroke="#f1eff8" stroke-width="0.4">SERVICE</text>
<text transform="translate(1197.67,122.6) scale(0.7627,1)" font-size="12.03" fill="#f1eff8" stroke="#f1eff8" stroke-width="0.4">LEDGE</text>
<text transform="translate(1167.61,196.2) scale(0.7598,1)" font-size="12.32" fill="#f1eff8" stroke="#f1eff8" stroke-width="0.4">TOILET</text>
<text transform="translate(1160.23,207.2) scale(0.8382,1)" font-size="12.32" fill="#f1eff8" stroke="#f1eff8" stroke-width="0.4">1.20X2.10</text>
<rect x="1232.9" y="151.1" width="23.6" height="23.8" fill="#c0bdd5" />
<rect x="1232.9" y="285.6" width="23.6" height="21.9" fill="#c0bdd5" />
<rect x="1158.9" y="306.5" width="29.8" height="2.1" fill="#332d48" />
<path d="M1159.2,307.3 L1159.2,278.3 A29,29 0 0 1 1188.2,307.3" stroke="#b6b2cd" stroke-width="1" fill="none"/>
<text transform="translate(1210.47,234.6) scale(0.7682,1)" font-size="12.32" fill="#f1eff8" stroke="#f1eff8" stroke-width="0.4">OFFICE-504</text>
<text transform="translate(1213.89,245.3) scale(0.8389,1)" font-size="12.32" fill="#f1eff8" stroke="#f1eff8" stroke-width="0.4">5.74X8.14</text>
<text transform="translate(411.80,338.5) scale(0.8436,1)" font-size="11.74" fill="#f1eff8" stroke="#f1eff8" stroke-width="0.4">2.0 M WIDE PASSAGE</text>
<line x1="385.4" y1="334.6" x2="411.7" y2="334.6" stroke="#dcd9ea" stroke-width="1.1" stroke-dasharray="2.4,1.3"/>
<line x1="514.7" y1="334.6" x2="533.3" y2="334.6" stroke="#dcd9ea" stroke-width="1.1" stroke-dasharray="2.4,1.3"/>
<text transform="translate(903.60,338.5) scale(0.8469,1)" font-size="11.74" fill="#f1eff8" stroke="#f1eff8" stroke-width="0.4">2.0 M WIDE PASSAGE</text>
<line x1="877.4" y1="334.6" x2="903.5" y2="334.6" stroke="#dcd9ea" stroke-width="1.1" stroke-dasharray="2.4,1.3"/>
<line x1="1006.9" y1="334.6" x2="1025.7" y2="334.6" stroke="#dcd9ea" stroke-width="1.1" stroke-dasharray="2.4,1.3"/>
<rect x="391" y="364" width="4.2" height="284" fill="#c5c1da" />
<rect x="395.3" y="362.4" width="30.5" height="2.2" fill="#332d48" />
<path d="M396.2,363.6 L396.2,392.5 A28.9,28.9 0 0 0 425.09999999999997,363.6" stroke="#b6b2cd" stroke-width="1" fill="none"/>
<rect x="498.2" y="364" width="4.2" height="132" fill="#c5c1da" />
<rect x="502.5" y="362.4" width="30.5" height="2.2" fill="#332d48" />
<path d="M503.4,363.6 L503.4,392.5 A28.9,28.9 0 0 0 532.3,363.6" stroke="#b6b2cd" stroke-width="1" fill="none"/>
<rect x="605" y="364" width="4.2" height="284" fill="#c5c1da" />
<rect x="609.3" y="362.4" width="30.5" height="2.2" fill="#332d48" />
<path d="M610.2,363.6 L610.2,392.5 A28.9,28.9 0 0 0 639.1,363.6" stroke="#b6b2cd" stroke-width="1" fill="none"/>
<rect x="712.4" y="364" width="4.2" height="132" fill="#c5c1da" />
<rect x="716.6999999999999" y="362.4" width="30.5" height="2.2" fill="#332d48" />
<path d="M717.6,363.6 L717.6,392.5 A28.9,28.9 0 0 0 746.5,363.6" stroke="#b6b2cd" stroke-width="1" fill="none"/>
<rect x="820" y="364" width="4.2" height="284" fill="#c5c1da" />
<rect x="824.3" y="362.4" width="30.5" height="2.2" fill="#332d48" />
<path d="M825.2,363.6 L825.2,392.5 A28.9,28.9 0 0 0 854.1,363.6" stroke="#b6b2cd" stroke-width="1" fill="none"/>
<rect x="927" y="364" width="4.2" height="132" fill="#c5c1da" />
<rect x="931.3" y="362.4" width="30.5" height="2.2" fill="#332d48" />
<path d="M932.2,363.6 L932.2,392.5 A28.9,28.9 0 0 0 961.1,363.6" stroke="#b6b2cd" stroke-width="1" fill="none"/>
<rect x="1035.6" y="364" width="4.2" height="284" fill="#c5c1da" />
<rect x="1039.8999999999999" y="362.4" width="30.5" height="2.2" fill="#332d48" />
<path d="M1040.8,363.6 L1040.8,392.5 A28.9,28.9 0 0 0 1069.7,363.6" stroke="#b6b2cd" stroke-width="1" fill="none"/>
<rect x="1143.1" y="364" width="4.2" height="132" fill="#c5c1da" />
<rect x="1147.3999999999999" y="362.4" width="30.5" height="2.2" fill="#332d48" />
<path d="M1148.3,363.6 L1148.3,392.5 A28.9,28.9 0 0 0 1177.2,363.6" stroke="#b6b2cd" stroke-width="1" fill="none"/>
<rect x="235" y="362.4" width="30.2" height="2.2" fill="#332d48" />
<path d="M235.5,363.6 L235.5,392.5 A28.9,28.9 0 0 0 264.4,363.6" stroke="#b6b2cd" stroke-width="1" fill="none"/>
<rect x="210.8" y="471" width="23.6" height="27.3" fill="#c0bdd5" />
<rect x="210.8" y="589.8" width="23.6" height="23.5" fill="#c0bdd5" />
<rect x="381.2" y="471" width="23.6" height="27.3" fill="#c0bdd5" />
<rect x="381.2" y="589.8" width="23.6" height="23.5" fill="#c0bdd5" />
<rect x="595.8" y="471" width="23.6" height="27.3" fill="#c0bdd5" />
<rect x="595.8" y="589.8" width="23.6" height="23.5" fill="#c0bdd5" />
<rect x="810" y="471" width="23.6" height="27.3" fill="#c0bdd5" />
<rect x="810" y="589.8" width="23.6" height="23.5" fill="#c0bdd5" />
<rect x="1025.8" y="471" width="23.6" height="27.3" fill="#c0bdd5" />
<rect x="1025.8" y="589.8" width="23.6" height="23.5" fill="#c0bdd5" />
<rect x="1232.8" y="471" width="23.6" height="27.3" fill="#c0bdd5" />
<rect x="1232.8" y="589.8" width="23.6" height="23.5" fill="#c0bdd5" />
<rect x="481.2" y="495.8" width="38.0" height="3.8" fill="#c5c1da" />
<rect x="481.2" y="495.8" width="4.0" height="125.7" fill="#c5c1da" />
<rect x="515.2" y="495.8" width="4.0" height="125.7" fill="#c5c1da" />
<rect x="481.2" y="553" width="38.0" height="4" fill="#c5c1da" />
<rect x="481.2" y="617.4" width="38.0" height="3.9" fill="#c5c1da" />
<line x1="485.2" y1="501.3" x2="515.2" y2="501.3" stroke="#b6b2cd" stroke-width="0.8"/>
<g transform="rotate(0 499.8 509.5)"><ellipse cx="499.8" cy="510.1" rx="4.8" ry="6.3" stroke="#b6b2cd" stroke-width="1.5" fill="none"/><ellipse cx="499.8" cy="510.7" rx="2.1" ry="3.4650000000000003" stroke="#b6b2cd" stroke-width="0.9" fill="none"/><rect x="496.86" y="502.59999999999997" width="5.88" height="2.2" fill="#b6b2cd"/></g>
<rect x="485.7" y="520" width="8.8" height="11.4" fill="none" stroke="#b6b2cd" stroke-width="1.3"/>
<path d="M515.2,533.5 L499.20000000000005,533.5 A16,16 0 0 1 515.2,517.5 Z" fill="#29243c"/>
<path d="M499.20000000000005,533.5 A16,16 0 0 1 515.2,517.5" stroke="#b6b2cd" stroke-width="1" fill="none"/>
<line x1="498.70000000000005" y1="533.5" x2="515.2" y2="533.5" stroke="#b6b2cd" stroke-width="1.3"/>
<circle cx="511.20000000000005" cy="544.4" r="4" stroke="#b6b2cd" stroke-width="1.2" fill="none"/>
<g transform="rotate(0 499.8 566)"><ellipse cx="499.8" cy="566.6" rx="4.8" ry="6.3" stroke="#b6b2cd" stroke-width="1.5" fill="none"/><ellipse cx="499.8" cy="567.2" rx="2.1" ry="3.4650000000000003" stroke="#b6b2cd" stroke-width="0.9" fill="none"/><rect x="496.86" y="559.1" width="5.88" height="2.2" fill="#b6b2cd"/></g>
<path d="M485.2,593 L501.2,593 A16,16 0 0 0 485.2,577 Z" fill="#29243c"/>
<path d="M501.2,593 A16,16 0 0 0 485.2,577" stroke="#b6b2cd" stroke-width="1" fill="none"/>
<line x1="485.2" y1="593" x2="501.7" y2="593" stroke="#b6b2cd" stroke-width="1.3"/>
<rect x="505.90000000000003" y="580" width="8.8" height="11.5" fill="none" stroke="#b6b2cd" stroke-width="1.3"/>
<circle cx="489.2" cy="603" r="4" stroke="#b6b2cd" stroke-width="1.2" fill="none"/>
<rect x="485.2" y="608.8" width="30.0" height="3.0" fill="#b9b5d0" />
<line x1="486.2" y1="612.6" x2="514.2" y2="616.8" stroke="#b6b2cd" stroke-width="0.8"/>
<line x1="486.2" y1="616.8" x2="514.2" y2="612.6" stroke="#b6b2cd" stroke-width="0.8"/>
<line x1="483.7" y1="621.5" x2="483.7" y2="647.5" stroke="#b6b2cd" stroke-width="1"/>
<line x1="516.7" y1="621.5" x2="516.7" y2="647.5" stroke="#b6b2cd" stroke-width="1"/>
<rect x="481.2" y="638" width="4.0" height="10" fill="#c5c1da" />
<rect x="515.2" y="638" width="4.0" height="10" fill="#c5c1da" />
<line x1="485.2" y1="637" x2="500.2" y2="622" stroke="#b6b2cd" stroke-width="1"/>
<line x1="515.2" y1="637" x2="500.2" y2="622" stroke="#b6b2cd" stroke-width="1"/>
<text transform="translate(519.48,631.8) scale(0.7597,1)" font-size="12.32" fill="#f1eff8" stroke="#f1eff8" stroke-width="0.4">SERVICE</text>
<text transform="translate(524.46,641.6) scale(0.7497,1)" font-size="12.32" fill="#f1eff8" stroke="#f1eff8" stroke-width="0.4">LEDGE</text>
<rect x="695.8" y="495.8" width="38.0" height="3.8" fill="#c5c1da" />
<rect x="695.8" y="495.8" width="4.0" height="125.7" fill="#c5c1da" />
<rect x="729.8" y="495.8" width="4.0" height="125.7" fill="#c5c1da" />
<rect x="695.8" y="553" width="38.0" height="4" fill="#c5c1da" />
<rect x="695.8" y="617.4" width="38.0" height="3.9" fill="#c5c1da" />
<line x1="699.8" y1="501.3" x2="729.8" y2="501.3" stroke="#b6b2cd" stroke-width="0.8"/>
<g transform="rotate(0 714.4 509.5)"><ellipse cx="714.4" cy="510.1" rx="4.8" ry="6.3" stroke="#b6b2cd" stroke-width="1.5" fill="none"/><ellipse cx="714.4" cy="510.7" rx="2.1" ry="3.4650000000000003" stroke="#b6b2cd" stroke-width="0.9" fill="none"/><rect x="711.4599999999999" y="502.59999999999997" width="5.88" height="2.2" fill="#b6b2cd"/></g>
<rect x="700.3" y="520" width="8.8" height="11.4" fill="none" stroke="#b6b2cd" stroke-width="1.3"/>
<path d="M729.8,533.5 L713.8,533.5 A16,16 0 0 1 729.8,517.5 Z" fill="#29243c"/>
<path d="M713.8,533.5 A16,16 0 0 1 729.8,517.5" stroke="#b6b2cd" stroke-width="1" fill="none"/>
<line x1="713.3" y1="533.5" x2="729.8" y2="533.5" stroke="#b6b2cd" stroke-width="1.3"/>
<circle cx="725.8" cy="544.4" r="4" stroke="#b6b2cd" stroke-width="1.2" fill="none"/>
<g transform="rotate(0 714.4 566)"><ellipse cx="714.4" cy="566.6" rx="4.8" ry="6.3" stroke="#b6b2cd" stroke-width="1.5" fill="none"/><ellipse cx="714.4" cy="567.2" rx="2.1" ry="3.4650000000000003" stroke="#b6b2cd" stroke-width="0.9" fill="none"/><rect x="711.4599999999999" y="559.1" width="5.88" height="2.2" fill="#b6b2cd"/></g>
<path d="M699.8,593 L715.8,593 A16,16 0 0 0 699.8,577 Z" fill="#29243c"/>
<path d="M715.8,593 A16,16 0 0 0 699.8,577" stroke="#b6b2cd" stroke-width="1" fill="none"/>
<line x1="699.8" y1="593" x2="716.3" y2="593" stroke="#b6b2cd" stroke-width="1.3"/>
<rect x="720.5" y="580" width="8.8" height="11.5" fill="none" stroke="#b6b2cd" stroke-width="1.3"/>
<circle cx="703.8" cy="603" r="4" stroke="#b6b2cd" stroke-width="1.2" fill="none"/>
<rect x="699.8" y="608.8" width="30.0" height="3.0" fill="#b9b5d0" />
<line x1="700.8" y1="612.6" x2="728.8" y2="616.8" stroke="#b6b2cd" stroke-width="0.8"/>
<line x1="700.8" y1="616.8" x2="728.8" y2="612.6" stroke="#b6b2cd" stroke-width="0.8"/>
<line x1="698.3" y1="621.5" x2="698.3" y2="647.5" stroke="#b6b2cd" stroke-width="1"/>
<line x1="731.3" y1="621.5" x2="731.3" y2="647.5" stroke="#b6b2cd" stroke-width="1"/>
<rect x="695.8" y="638" width="4.0" height="10" fill="#c5c1da" />
<rect x="729.8" y="638" width="4.0" height="10" fill="#c5c1da" />
<line x1="699.8" y1="637" x2="714.8" y2="622" stroke="#b6b2cd" stroke-width="1"/>
<line x1="729.8" y1="637" x2="714.8" y2="622" stroke="#b6b2cd" stroke-width="1"/>
<text transform="translate(733.87,631.9) scale(0.7691,1)" font-size="12.32" fill="#f1eff8" stroke="#f1eff8" stroke-width="0.4">SERVICE</text>
<text transform="translate(738.24,642) scale(0.7696,1)" font-size="12.32" fill="#f1eff8" stroke="#f1eff8" stroke-width="0.4">LEDGE</text>
<rect x="910.3" y="495.8" width="38.0" height="3.8" fill="#c5c1da" />
<rect x="910.3" y="495.8" width="4.0" height="125.7" fill="#c5c1da" />
<rect x="944.3" y="495.8" width="4.0" height="125.7" fill="#c5c1da" />
<rect x="910.3" y="553" width="38.0" height="4" fill="#c5c1da" />
<rect x="910.3" y="617.4" width="38.0" height="3.9" fill="#c5c1da" />
<line x1="914.3" y1="501.3" x2="944.3" y2="501.3" stroke="#b6b2cd" stroke-width="0.8"/>
<g transform="rotate(0 928.9 509.5)"><ellipse cx="928.9" cy="510.1" rx="4.8" ry="6.3" stroke="#b6b2cd" stroke-width="1.5" fill="none"/><ellipse cx="928.9" cy="510.7" rx="2.1" ry="3.4650000000000003" stroke="#b6b2cd" stroke-width="0.9" fill="none"/><rect x="925.9599999999999" y="502.59999999999997" width="5.88" height="2.2" fill="#b6b2cd"/></g>
<rect x="914.8" y="520" width="8.8" height="11.4" fill="none" stroke="#b6b2cd" stroke-width="1.3"/>
<path d="M944.3,533.5 L928.3,533.5 A16,16 0 0 1 944.3,517.5 Z" fill="#29243c"/>
<path d="M928.3,533.5 A16,16 0 0 1 944.3,517.5" stroke="#b6b2cd" stroke-width="1" fill="none"/>
<line x1="927.8" y1="533.5" x2="944.3" y2="533.5" stroke="#b6b2cd" stroke-width="1.3"/>
<circle cx="940.3" cy="544.4" r="4" stroke="#b6b2cd" stroke-width="1.2" fill="none"/>
<g transform="rotate(0 928.9 566)"><ellipse cx="928.9" cy="566.6" rx="4.8" ry="6.3" stroke="#b6b2cd" stroke-width="1.5" fill="none"/><ellipse cx="928.9" cy="567.2" rx="2.1" ry="3.4650000000000003" stroke="#b6b2cd" stroke-width="0.9" fill="none"/><rect x="925.9599999999999" y="559.1" width="5.88" height="2.2" fill="#b6b2cd"/></g>
<path d="M914.3,593 L930.3,593 A16,16 0 0 0 914.3,577 Z" fill="#29243c"/>
<path d="M930.3,593 A16,16 0 0 0 914.3,577" stroke="#b6b2cd" stroke-width="1" fill="none"/>
<line x1="914.3" y1="593" x2="930.8" y2="593" stroke="#b6b2cd" stroke-width="1.3"/>
<rect x="935.0" y="580" width="8.8" height="11.5" fill="none" stroke="#b6b2cd" stroke-width="1.3"/>
<circle cx="918.3" cy="603" r="4" stroke="#b6b2cd" stroke-width="1.2" fill="none"/>
<rect x="914.3" y="608.8" width="30.0" height="3.0" fill="#b9b5d0" />
<line x1="915.3" y1="612.6" x2="943.3" y2="616.8" stroke="#b6b2cd" stroke-width="0.8"/>
<line x1="915.3" y1="616.8" x2="943.3" y2="612.6" stroke="#b6b2cd" stroke-width="0.8"/>
<line x1="912.8" y1="621.5" x2="912.8" y2="647.5" stroke="#b6b2cd" stroke-width="1"/>
<line x1="945.8" y1="621.5" x2="945.8" y2="647.5" stroke="#b6b2cd" stroke-width="1"/>
<rect x="910.3" y="638" width="4.0" height="10" fill="#c5c1da" />
<rect x="944.3" y="638" width="4.0" height="10" fill="#c5c1da" />
<line x1="914.3" y1="637" x2="929.3" y2="622" stroke="#b6b2cd" stroke-width="1"/>
<line x1="944.3" y1="637" x2="929.3" y2="622" stroke="#b6b2cd" stroke-width="1"/>
<text transform="translate(947.17,632.8) scale(0.7710,1)" font-size="12.32" fill="#f1eff8" stroke="#f1eff8" stroke-width="0.4">SERVICE</text>
<text transform="translate(951.34,643.8) scale(0.7696,1)" font-size="12.32" fill="#f1eff8" stroke="#f1eff8" stroke-width="0.4">LEDGE</text>
<rect x="1126.3" y="495.8" width="38.0" height="3.8" fill="#c5c1da" />
<rect x="1126.3" y="495.8" width="4.0" height="125.7" fill="#c5c1da" />
<rect x="1160.3" y="495.8" width="4.0" height="125.7" fill="#c5c1da" />
<rect x="1126.3" y="553" width="38.0" height="4" fill="#c5c1da" />
<rect x="1126.3" y="617.4" width="38.0" height="3.9" fill="#c5c1da" />
<line x1="1130.3" y1="501.3" x2="1160.3" y2="501.3" stroke="#b6b2cd" stroke-width="0.8"/>
<g transform="rotate(0 1144.8999999999999 509.5)"><ellipse cx="1144.8999999999999" cy="510.1" rx="4.8" ry="6.3" stroke="#b6b2cd" stroke-width="1.5" fill="none"/><ellipse cx="1144.8999999999999" cy="510.7" rx="2.1" ry="3.4650000000000003" stroke="#b6b2cd" stroke-width="0.9" fill="none"/><rect x="1141.9599999999998" y="502.59999999999997" width="5.88" height="2.2" fill="#b6b2cd"/></g>
<rect x="1130.8" y="520" width="8.8" height="11.4" fill="none" stroke="#b6b2cd" stroke-width="1.3"/>
<path d="M1160.3,533.5 L1144.3,533.5 A16,16 0 0 1 1160.3,517.5 Z" fill="#29243c"/>
<path d="M1144.3,533.5 A16,16 0 0 1 1160.3,517.5" stroke="#b6b2cd" stroke-width="1" fill="none"/>
<line x1="1143.8" y1="533.5" x2="1160.3" y2="533.5" stroke="#b6b2cd" stroke-width="1.3"/>
<circle cx="1156.3" cy="544.4" r="4" stroke="#b6b2cd" stroke-width="1.2" fill="none"/>
<g transform="rotate(0 1144.8999999999999 566)"><ellipse cx="1144.8999999999999" cy="566.6" rx="4.8" ry="6.3" stroke="#b6b2cd" stroke-width="1.5" fill="none"/><ellipse cx="1144.8999999999999" cy="567.2" rx="2.1" ry="3.4650000000000003" stroke="#b6b2cd" stroke-width="0.9" fill="none"/><rect x="1141.9599999999998" y="559.1" width="5.88" height="2.2" fill="#b6b2cd"/></g>
<path d="M1130.3,593 L1146.3,593 A16,16 0 0 0 1130.3,577 Z" fill="#29243c"/>
<path d="M1146.3,593 A16,16 0 0 0 1130.3,577" stroke="#b6b2cd" stroke-width="1" fill="none"/>
<line x1="1130.3" y1="593" x2="1146.8" y2="593" stroke="#b6b2cd" stroke-width="1.3"/>
<rect x="1151.0" y="580" width="8.8" height="11.5" fill="none" stroke="#b6b2cd" stroke-width="1.3"/>
<circle cx="1134.3" cy="603" r="4" stroke="#b6b2cd" stroke-width="1.2" fill="none"/>
<rect x="1130.3" y="608.8" width="30.0" height="3.0" fill="#b9b5d0" />
<line x1="1131.3" y1="612.6" x2="1159.3" y2="616.8" stroke="#b6b2cd" stroke-width="0.8"/>
<line x1="1131.3" y1="616.8" x2="1159.3" y2="612.6" stroke="#b6b2cd" stroke-width="0.8"/>
<line x1="1128.8" y1="621.5" x2="1128.8" y2="647.5" stroke="#b6b2cd" stroke-width="1"/>
<line x1="1161.8" y1="621.5" x2="1161.8" y2="647.5" stroke="#b6b2cd" stroke-width="1"/>
<rect x="1126.3" y="638" width="4.0" height="10" fill="#c5c1da" />
<rect x="1160.3" y="638" width="4.0" height="10" fill="#c5c1da" />
<line x1="1130.3" y1="637" x2="1145.3" y2="622" stroke="#b6b2cd" stroke-width="1"/>
<line x1="1160.3" y1="637" x2="1145.3" y2="622" stroke="#b6b2cd" stroke-width="1"/>
<text transform="translate(1165.47,632.1) scale(0.7691,1)" font-size="12.32" fill="#f1eff8" stroke="#f1eff8" stroke-width="0.4">SERVICE</text>
<text transform="translate(1170.05,643.8) scale(0.7572,1)" font-size="12.32" fill="#f1eff8" stroke="#f1eff8" stroke-width="0.4">LEDGE</text>
<rect x="347.8" y="552.8" width="43.2" height="3.9" fill="#c5c1da" />
<rect x="347.8" y="552.8" width="1.8" height="20.7" fill="#c5c1da" />
<rect x="347.8" y="573.5" width="3.9" height="48.6" fill="#c5c1da" />
<path d="M351.7,556.7 L351.7,573.2 A16.5,16.5 0 0 0 368.2,556.7 Z" fill="#29243c"/>
<path d="M351.7,573.2 A16.5,16.5 0 0 0 368.2,556.7" stroke="#b6b2cd" stroke-width="1" fill="none"/>
<rect x="381" y="558.5" width="10" height="12.0" fill="none" stroke="#b6b2cd" stroke-width="1.3"/>
<g transform="rotate(180 366.5 602)"><ellipse cx="366.5" cy="602.6" rx="5.6" ry="6.8" stroke="#b6b2cd" stroke-width="1.5" fill="none"/><ellipse cx="366.5" cy="603.2" rx="2.5" ry="3.74" stroke="#b6b2cd" stroke-width="0.9" fill="none"/><rect x="363.0" y="594.6" width="7.0" height="2.2" fill="#b6b2cd"/></g>
<rect x="351.7" y="610.5" width="39.3" height="2.9" fill="#b3afca" />
<line x1="351.7" y1="616.8" x2="391" y2="616.8" stroke="#b6b2cd" stroke-width="1"/>
<rect x="347.8" y="619.8" width="43.2" height="2.3" fill="#c5c1da" />
<line x1="368" y1="622" x2="349.4" y2="640" stroke="#b6b2cd" stroke-width="1"/>
<line x1="349.4" y1="622" x2="349.4" y2="648" stroke="#b6b2cd" stroke-width="1"/>
<rect x="347.8" y="640" width="3.2" height="8" fill="#c5c1da" />
<text transform="translate(306.21,583.7) scale(0.7693,1)" font-size="12.32" fill="#f1eff8" stroke="#f1eff8" stroke-width="0.4">TOILET</text>
<text transform="translate(298.32,596.1) scale(0.8419,1)" font-size="12.32" fill="#f1eff8" stroke="#f1eff8" stroke-width="0.4">1.20X2.10</text>
<text transform="translate(267.37,437.8) scale(0.7499,1)" font-size="12.75" fill="#f1eff8" stroke="#f1eff8" stroke-width="0.4">OFFICE -513</text>
<text transform="translate(267.93,452) scale(0.8187,1)" font-size="12.75" fill="#f1eff8" stroke="#f1eff8" stroke-width="0.4">8.93X11.11</text>
<text transform="translate(421.17,437.8) scale(0.7545,1)" font-size="12.75" fill="#f1eff8" stroke="#f1eff8" stroke-width="0.4">OFFICE-512</text>
<text transform="translate(419.33,451.8) scale(0.8313,1)" font-size="12.75" fill="#f1eff8" stroke="#f1eff8" stroke-width="0.4">4.07X11.11</text>
<text transform="translate(529.57,437.8) scale(0.7506,1)" font-size="12.75" fill="#f1eff8" stroke="#f1eff8" stroke-width="0.4">OFFICE-511</text>
<text transform="translate(527.53,451.8) scale(0.8313,1)" font-size="12.75" fill="#f1eff8" stroke="#f1eff8" stroke-width="0.4">4.07X11.11</text>
<text transform="translate(634.87,437.8) scale(0.7462,1)" font-size="12.75" fill="#f1eff8" stroke="#f1eff8" stroke-width="0.4">OFFICE-510</text>
<text transform="translate(634.34,451.8) scale(0.8233,1)" font-size="12.75" fill="#f1eff8" stroke="#f1eff8" stroke-width="0.4">4.07X11.11</text>
<text transform="translate(747.27,437.8) scale(0.7539,1)" font-size="12.75" fill="#f1eff8" stroke="#f1eff8" stroke-width="0.4">OFFICE-509</text>
<text transform="translate(746.74,451.8) scale(0.8297,1)" font-size="12.75" fill="#f1eff8" stroke="#f1eff8" stroke-width="0.4">4.08X11.11</text>
<text transform="translate(851.47,437.8) scale(0.7462,1)" font-size="12.75" fill="#f1eff8" stroke="#f1eff8" stroke-width="0.4">OFFICE-508</text>
<text transform="translate(851.63,451.8) scale(0.8394,1)" font-size="12.75" fill="#f1eff8" stroke="#f1eff8" stroke-width="0.4">4.07X11.11</text>
<text transform="translate(956.47,437.8) scale(0.7475,1)" font-size="12.75" fill="#f1eff8" stroke="#f1eff8" stroke-width="0.4">OFFICE-507</text>
<text transform="translate(955.94,451.8) scale(0.8297,1)" font-size="12.75" fill="#f1eff8" stroke="#f1eff8" stroke-width="0.4">4.12X11.11</text>
<text transform="translate(1064.06,437.8) scale(0.7581,1)" font-size="12.75" fill="#f1eff8" stroke="#f1eff8" stroke-width="0.4">OFFICE-506</text>
<text transform="translate(1063.73,451.8) scale(0.8329,1)" font-size="12.75" fill="#f1eff8" stroke="#f1eff8" stroke-width="0.4">4.07X11.11</text>
<text transform="translate(1198.27,437.8) scale(0.7532,1)" font-size="12.75" fill="#f1eff8" stroke="#f1eff8" stroke-width="0.4">OFFICE-505</text>
<text transform="translate(1199.37,451.8) scale(0.8356,1)" font-size="12.75" fill="#f1eff8" stroke="#f1eff8" stroke-width="0.4">6.15X11.11</text>
<polyline points="614.6,683.2 606.6,686.9 614.6,690.6" stroke="#f1eff8" stroke-width="1.7" fill="none"/>
<polyline points="629.2,683.2 621.2,686.9 629.2,690.6" stroke="#f1eff8" stroke-width="1.7" fill="none"/>
<polyline points="643.4,683.2 635.4,686.9 643.4,690.6" stroke="#f1eff8" stroke-width="1.7" fill="none"/>
<polyline points="739.6,683.2 747.6,686.9 739.6,690.6" stroke="#f1eff8" stroke-width="1.7" fill="none"/>
<polyline points="754.4000000000001,683.2 762.4000000000001,686.9 754.4000000000001,690.6" stroke="#f1eff8" stroke-width="1.7" fill="none"/>
<polyline points="768.9000000000001,683.2 776.9000000000001,686.9 768.9000000000001,690.6" stroke="#f1eff8" stroke-width="1.7" fill="none"/>
<text transform="translate(653.26,693.1) scale(0.9263,1)" font-size="18.12" fill="#f1eff8" stroke="#f1eff8" stroke-width="0.4">DP ROAD</text>
</svg>
</body></html>
